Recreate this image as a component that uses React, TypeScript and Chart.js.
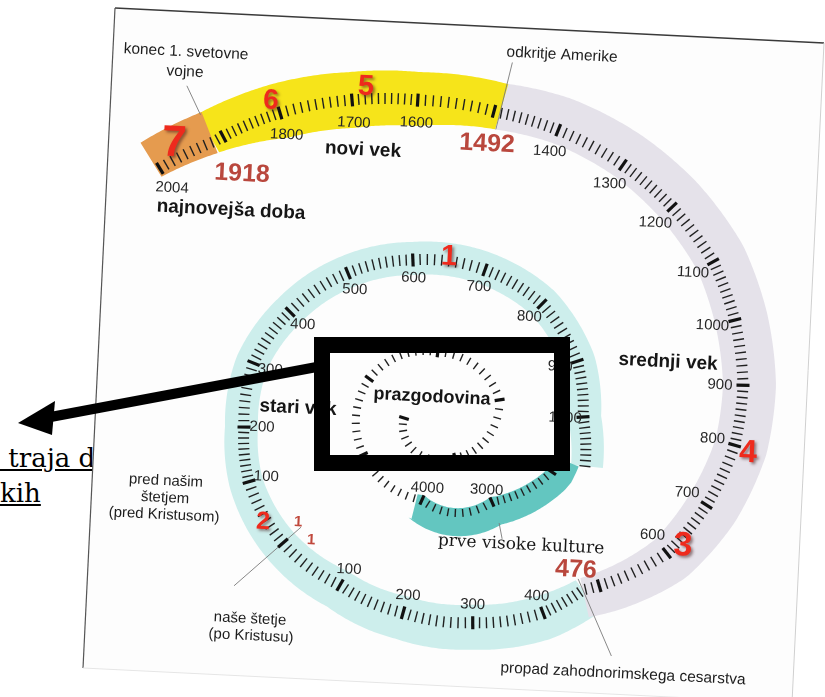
import React, { useEffect, useRef } from 'react';
import { Chart, registerables } from 'chart.js';

Chart.register(...registerables);

// ---------------- data ----------------
const ERA_NAMES = ['prazgodovina', 'prve visoke kulture', 'stari vek', 'srednji vek', 'novi vek', 'najnovejša doba'];
const ERA_START = [-10000, -4070, -1090, 476, 1492, 1918];
const ERA_END = [-4070, -1900, 476, 1492, 1918, 2004];
const ERA_TICK_STEP = [100, 100, 10, 10, 10, 10];
const TICK_LABEL_YEARS = [
  -4000, -3000, -1000, -900, -800, -700, -600, -500, -400, -300, -200, -100,
  100, 200, 300, 400, 600, 700, 800, 900, 1000, 1100, 1200, 1300, 1400, 1600, 1700, 1800,
];
const KEY_YEARS = [476, 1492, 1918];
const LAST_YEAR = 2004;
const EVENT_TEXTS = [['konec 1. svetovne', 'vojne'], ['odkritje Amerike'], ['propad zahodnorimskega cesarstva']];
const ERA_NUMBERS = ['1', '2', '3', '4', '5', '6', '7'];
const CALENDAR_NOTES = [['pred našim', 'štetjem', '(pred Kristusom)'], ['naše štetje', '(po Kristusu)']];
const BC_AD_MARKS = ['1', '1'];
const LEADER_YEARS = [0, 476, 1492, 1918, -2950];

// ---------------- layout / style ----------------
const W = 825;
const H = 697;
const ROT = Math.atan2(35, 709);
const PAGE = [[115, 8], [824, 43], [792, 703], [83, 668]];
// year, centre x, centre y, angle (deg), radius, band inner, band outer
const SPIRAL: number[][] = [
  [-10000, 432, 418, -540, 28, 0, 0],
  [-9000, 432, 418, -420, 46, 0, 0],
  [-8000, 432, 418, -345, 70, 0, 0],
  [-7000, 432, 418, -275, 66, 0, 0],
  [-6000, 432, 418, -212, 74, 0, 0],
  [-5000, 432, 418, -152, 78, 0, 0],
  [-4000, 432, 418, -97, 82.6, 5, 22],
  [-3000, 412, 430, -42, 107.6, 5, 24],
  [-2000, 412, 430, -16.7, 146, 5, 22],
  [-1900, 412, 430, -10.9, 149, 5, 22],
  [-1090, 412, 430, -11.8, 176.7, 14, 18],
  [-1000, 412, 430, 4.35, 171.5, 15, 18],
  [-900, 412, 430, 22.6, 179, 15, 18],
  [-800, 412, 430, 44.1, 181, 15, 18],
  [-700, 412, 430, 65.5, 176, 15, 18],
  [-600, 412, 430, 89.7, 170, 15, 18],
  [-500, 412, 430, 112.2, 169.5, 15, 18],
  [-400, 412, 430, 135.9, 169.7, 15, 18],
  [-300, 412, 430, 157.1, 172, 15, 18],
  [-200, 412, 430, 179, 168, 14, 19],
  [-100, 412, 430, 197.6, 171, 14, 20],
  [0, 412, 430, 221.2, 171.5, 15, 22],
  [100, 412, 430, 245.1, 171, 16, 25],
  [200, 412, 430, 267.2, 183, 17, 27],
  [300, 412, 430, 287.5, 202, 18, 27],
  [400, 412, 430, 305.6, 225, 18, 27],
  [476, 412, 430, 316.9, 234, 12, 28],
  [600, 412, 430, 334.2, 283, 18, 31],
  [700, 412, 430, 345.7, 304, 20, 33],
  [800, 412, 430, 357.3, 323, 20, 33],
  [900, 412, 430, 367.7, 334, 20, 33],
  [1000, 412, 430, 378.8, 341, 20, 33],
  [1100, 412, 430, 389.2, 345, 18, 34],
  [1200, 412, 430, 400.6, 342.5, 16, 35],
  [1300, 412, 430, 411.5, 338.7, 14, 35],
  [1400, 412, 430, 424, 333.6, 14, 34],
  [1492, 412, 430, 434.5, 329, 17, 30],
  [1600, 412, 430, 449, 330, 26, 28],
  [1700, 412, 430, 460.3, 335.4, 28, 28],
  [1800, 412, 430, 472.6, 343.4, 26, 30],
  [1918, 412, 430, 484.6, 350, 12, 32],
  [2004, 412, 430, 494.4, 364, 8, 32],
];
const ERA_FILL = [null, '#63c6c0', '#cdeeec', '#e5e2ea', '#f6e41a', '#e59b4f'];
const BAND_ORDER = [2, 3, 4, 5, 1];
const LABEL_DIST = [13, 13, 18, 23, 23, 23];
const ERA_LABEL_POS = [[432, 397], [521, 545], [298, 408], [668, 362], [363, 150], [231, 210]];
const ERA_LABEL_FONT = [
  'bold 18px "Liberation Sans", Arial, sans-serif',
  '17px "DejaVu Serif", serif',
  'bold 19px "Liberation Sans", Arial, sans-serif',
  'bold 19px "Liberation Sans", Arial, sans-serif',
  'bold 19px "Liberation Sans", Arial, sans-serif',
  'bold 19px "Liberation Sans", Arial, sans-serif',
];
const ERA_NUMBER_POS = [[449, 257, 29], [263, 522, 25], [683, 546, 34], [748, 453, 32], [366, 87, 29], [271, 101, 28], [174, 144, 44]];
const KEY_YEAR_POS = [[576, 570], [487, 144], [242, 174]];
const EVENT_POS = [[[186, 52], [185, 72]], [[562, 55]], [[623, 674]]];
const NOTE_POS = [[[166, 481], [165, 498], [164, 515]], [[250, 619], [251, 636]]];
const BCAD_POS = [[298, 522], [311, 540]];
const LEADER_SPAN = [[-24, 65], [-12, 72], [-17, 52], [30, 62], [22, 38]];
const SANS = '"Liberation Sans", Arial, sans-serif';

function spiralAt(year: number) {
  let i = 0;
  while (i < SPIRAL.length - 2 && year > SPIRAL[i + 1][0]) i++;
  const a = SPIRAL[i];
  const b = SPIRAL[i + 1];
  const t = (year - a[0]) / (b[0] - a[0]);
  const L = (k: number) => a[k] + (b[k] - a[k]) * t;
  const ang = (L(3) * Math.PI) / 180;
  const r = L(4);
  return { x: L(1) + r * Math.cos(ang), y: L(2) - r * Math.sin(ang), inner: L(5), outer: L(6) };
}

function frameAt(year: number, lo = -Infinity, hi = Infinity) {
  const p = spiralAt(year);
  let y1 = Math.max(lo, year - 0.5);
  let y2 = Math.min(hi, year + 0.5);
  if (y2 - y1 < 1e-6) { y1 = year - 0.5; y2 = year + 0.5; }
  const p1 = spiralAt(y1);
  const p2 = spiralAt(y2);
  let tx = p2.x - p1.x;
  let ty = p2.y - p1.y;
  const n = Math.hypot(tx, ty) || 1;
  tx /= n;
  ty /= n;
  return { ...p, nx: -ty, ny: tx };
}

function eraOf(year: number) {
  for (let i = 0; i < ERA_START.length; i++) if (year >= ERA_START[i] && year <= ERA_END[i]) return i;
  return 2;
}

// tick marks from the eras' ranges
const minorPts: { x: number; y: number }[] = [];
const minorRot: number[] = [];
const minorLen: number[] = [];
const majorPts: { x: number; y: number }[] = [];
const majorRot: number[] = [];
const majorLen: number[] = [];
ERA_START.forEach((from, i) => {
  const to = ERA_END[i];
  const step = ERA_TICK_STEP[i];
  const small = step === 100;
  for (let y = Math.ceil(from / step) * step; y <= to; y += step) {
    const f = frameAt(y, from, to);
    const rot = (Math.atan2(f.ny, f.nx) * 180) / Math.PI;
    if (y % (step * 10) === 0) {
      majorPts.push({ x: f.x, y: f.y });
      majorRot.push(rot);
      majorLen.push(small ? 5 : 6.5);
    } else {
      minorPts.push({ x: f.x, y: f.y });
      minorRot.push(rot);
      minorLen.push(small ? 4 : 5.5);
    }
  }
});

function txt(ctx: CanvasRenderingContext2D, s: string, x: number, y: number, font: string, color: string, align: CanvasTextAlign = 'center') {
  ctx.save();
  ctx.translate(x, y);
  ctx.rotate(ROT);
  ctx.font = font;
  ctx.fillStyle = color;
  ctx.textAlign = align;
  ctx.textBaseline = 'middle';
  ctx.fillText(s, 0, 0);
  ctx.restore();
}

const spiralPlugin = {
  id: 'spiral',
  beforeDraw(chart: any) {
    const ctx: CanvasRenderingContext2D = chart.ctx;
    const X = (v: number) => chart.scales.x.getPixelForValue(v);
    const Y = (v: number) => chart.scales.y.getPixelForValue(v);
    ctx.save();
    ctx.beginPath();
    PAGE.forEach(([x, y], k) => (k ? ctx.lineTo(X(x), Y(y)) : ctx.moveTo(X(x), Y(y))));
    ctx.closePath();
    ctx.fillStyle = '#fdfdfd';
    ctx.fill();
    const edge = (a: number[], b: number[], c: string, w: number) => {
      ctx.beginPath();
      ctx.moveTo(X(a[0]), Y(a[1]));
      ctx.lineTo(X(b[0]), Y(b[1]));
      ctx.strokeStyle = c;
      ctx.lineWidth = w;
      ctx.stroke();
    };
    edge(PAGE[0], PAGE[1], '#3a3a3a', 1.3);
    edge(PAGE[0], PAGE[3], '#555', 1.2);
    edge(PAGE[1], PAGE[2], '#d0d0d0', 1);
    edge(PAGE[3], PAGE[2], '#e6e6e6', 1);
    ctx.restore();
  },
  beforeDatasetsDraw(chart: any) {
    const ctx: CanvasRenderingContext2D = chart.ctx;
    const X = (v: number) => chart.scales.x.getPixelForValue(v);
    const Y = (v: number) => chart.scales.y.getPixelForValue(v);
    ctx.save();
    BAND_ORDER.forEach((i) => {
      const from = ERA_START[i];
      const to = ERA_END[i];
      const n = Math.max(20, Math.ceil((to - from) / (ERA_TICK_STEP[i] === 100 ? 20 : 3)));
      const outer: number[][] = [];
      const inner: number[][] = [];
      for (let k = 0; k <= n; k++) {
        const y = from + ((to - from) * k) / n;
        const f = frameAt(y, from, to);
        outer.push([f.x + f.nx * f.outer, f.y + f.ny * f.outer]);
        inner.push([f.x - f.nx * f.inner, f.y - f.ny * f.inner]);
      }
      ctx.beginPath();
      outer.forEach(([x, y], k) => (k ? ctx.lineTo(X(x), Y(y)) : ctx.moveTo(X(x), Y(y))));
      for (let k = inner.length - 1; k >= 0; k--) ctx.lineTo(X(inner[k][0]), Y(inner[k][1]));
      ctx.closePath();
      ctx.fillStyle = ERA_FILL[i] as string;
      ctx.fill();
    });
    ctx.strokeStyle = '#7a7a7a';
    ctx.lineWidth = 0.9;
    LEADER_YEARS.forEach((yr, k) => {
      const f = frameAt(yr);
      const [a, b] = LEADER_SPAN[k];
      ctx.beginPath();
      ctx.moveTo(X(f.x + f.nx * a), Y(f.y + f.ny * a));
      ctx.lineTo(X(f.x + f.nx * b), Y(f.y + f.ny * b));
      ctx.stroke();
    });
    ctx.restore();
  },
  afterDatasetsDraw(chart: any) {
    const ctx: CanvasRenderingContext2D = chart.ctx;
    const X = (v: number) => chart.scales.x.getPixelForValue(v);
    const Y = (v: number) => chart.scales.y.getPixelForValue(v);
    const labelFont = `15px ${SANS}`;
    ctx.save();
    TICK_LABEL_YEARS.forEach((yr) => {
      const e = eraOf(yr);
      const f = frameAt(yr, ERA_START[e], ERA_END[e]);
      const d = LABEL_DIST[e];
      txt(ctx, String(Math.abs(yr)), X(f.x - f.nx * d), Y(f.y - f.ny * d), labelFont, '#262626');
    });
    txt(ctx, String(LAST_YEAR), X(172), Y(188), labelFont, '#262626');
    ERA_NAMES.forEach((name, i) => {
      const [x, y] = ERA_LABEL_POS[i];
      txt(ctx, name, X(x), Y(y), ERA_LABEL_FONT[i], '#161616');
    });
    EVENT_TEXTS.forEach((lines, i) => {
      lines.forEach((s, j) => {
        const [x, y] = EVENT_POS[i][j];
        txt(ctx, s, X(x), Y(y), `15.5px ${SANS}`, '#1d1d1d');
      });
    });
    CALENDAR_NOTES.forEach((lines, i) => {
      lines.forEach((s, j) => {
        const [x, y] = NOTE_POS[i][j];
        txt(ctx, s, X(x), Y(y), `15px ${SANS}`, '#1d1d1d');
      });
    });
    KEY_YEARS.forEach((yr, i) => {
      const [x, y] = KEY_YEAR_POS[i];
      txt(ctx, String(yr), X(x), Y(y), `bold 25px ${SANS}`, '#b9473d');
    });
    BC_AD_MARKS.forEach((s, i) => {
      const [x, y] = BCAD_POS[i];
      txt(ctx, s, X(x), Y(y), `bold 15px ${SANS}`, '#c0483c');
    });
    ctx.save();
    ctx.shadowColor = 'rgba(70,30,30,0.55)';
    ctx.shadowBlur = 3;
    ctx.shadowOffsetX = 2;
    ctx.shadowOffsetY = 2;
    ERA_NUMBERS.forEach((s, i) => {
      const [x, y, size] = ERA_NUMBER_POS[i];
      txt(ctx, s, X(x), Y(y), `bold ${size}px ${SANS}`, '#ee2a1d');
    });
    ctx.restore();
    ctx.restore();
  },
  afterDraw(chart: any) {
    const ctx: CanvasRenderingContext2D = chart.ctx;
    const X = (v: number) => chart.scales.x.getPixelForValue(v);
    const Y = (v: number) => chart.scales.y.getPixelForValue(v);
    ctx.save();
    ctx.fillStyle = '#000';
    const [x0, y0, x1, y1, bw] = [314, 337, 570, 471, 16];
    ctx.beginPath();
    ctx.rect(X(x0), Y(y0), X(x1) - X(x0), Y(y1) - Y(y0));
    ctx.rect(X(x0 + bw), Y(y0 + bw), X(x1 - bw) - X(x0 + bw), Y(y1 - bw) - Y(y0 + bw));
    ctx.fill('evenodd');
    ctx.strokeStyle = '#000';
    ctx.lineWidth = 10;
    ctx.beginPath();
    ctx.moveTo(X(48), Y(417.5));
    ctx.lineTo(X(322), Y(366));
    ctx.stroke();
    ctx.beginPath();
    ctx.moveTo(X(18), Y(423));
    ctx.lineTo(X(55), Y(401));
    ctx.lineTo(X(52), Y(435));
    ctx.closePath();
    ctx.fill();
    ctx.restore();
  },
};

export default function App() {
  const ref = useRef<HTMLCanvasElement>(null);
  useEffect(() => {
    if (!ref.current) return;
    const chart = new Chart(ref.current, {
      type: 'scatter',
      data: {
        datasets: [
          {
            label: 'ticks',
            data: minorPts,
            pointStyle: 'line',
            pointRadius: minorLen,
            pointHoverRadius: minorLen,
            pointRotation: minorRot,
            pointBorderColor: '#202020',
            pointBackgroundColor: '#202020',
            pointBorderWidth: 1.4,
            showLine: false,
          } as any,
          {
            label: 'major ticks',
            data: majorPts,
            pointStyle: 'line',
            pointRadius: majorLen,
            pointHoverRadius: majorLen,
            pointRotation: majorRot,
            pointBorderColor: '#111',
            pointBackgroundColor: '#111',
            pointBorderWidth: 3.2,
            showLine: false,
          } as any,
        ],
      },
      options: {
        animation: false,
        responsive: true,
        maintainAspectRatio: false,
        events: [],
        layout: { padding: 0, autoPadding: false },
        plugins: { legend: { display: false }, tooltip: { enabled: false } },
        scales: {
          x: { type: 'linear', min: 0, max: W, display: false },
          y: { type: 'linear', min: 0, max: H, reverse: true, display: false },
        },
      },
      plugins: [spiralPlugin],
    });
    return () => chart.destroy();
  }, []);

  return (
    <div style={{ position: 'fixed', left: 0, top: 0, width: W, height: H, background: '#fff', overflow: 'hidden' }}>
      <div
        style={{
          position: 'absolute',
          left: 0,
          top: 440.5,
          font: '26px "DejaVu Serif", serif',
          lineHeight: '35px',
          textDecoration: 'underline',
          whiteSpace: 'pre',
          color: '#000',
        }}
      >
        {' traja dolgo'}
        <br />
        {'kih'}
      </div>
      <div style={{ position: 'absolute', left: 0, top: 0, width: W, height: H }}>
        <canvas ref={ref} />
      </div>
    </div>
  );
}
